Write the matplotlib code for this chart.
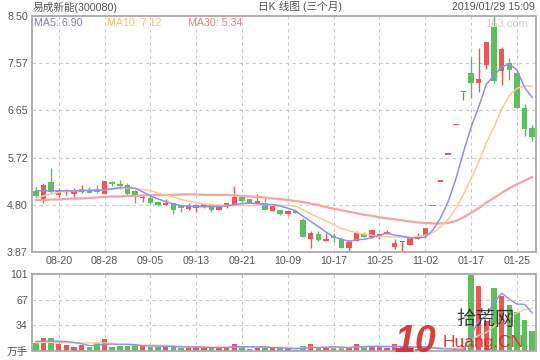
import matplotlib
matplotlib.use('Agg')
import matplotlib.pyplot as plt

plt.rcParams['font.family'] = ['Liberation Sans', 'Noto Sans CJK SC']

# trading days, 08-15 .. 01-29 (stock halted between 11-02 and the January resumption)
dates = ['08-15', '08-16', '08-17', '08-20', '08-21', '08-22', '08-23', '08-24', '08-27', '08-28',
         '08-29', '08-30', '08-31', '09-03', '09-04', '09-05', '09-06', '09-07', '09-10', '09-11',
         '09-12', '09-13', '09-14', '09-17', '09-18', '09-19', '09-20', '09-21', '09-25', '09-26',
         '09-27', '09-28', '10-08', '10-09', '10-10', '10-11', '10-12', '10-15', '10-16', '10-17',
         '10-18', '10-19', '10-22', '10-23', '10-24', '10-25', '10-26', '10-29', '10-30', '10-31',
         '11-01', '11-02', '01-10', '01-11', '01-14', '01-15', '01-16', '01-17', '01-18', '01-21',
         '01-22', '01-23', '01-24', '01-25', '01-28', '01-29']

opens = [5.07, 4.91, 5.24, 4.99, 5.05, 5.01, 5.05, 5.09, 5.11, 5.01,
         5.24, 5.20, 5.18, 5.07, 4.93, 4.93, 4.86, 4.80, 4.83, 4.76,
         4.71, 4.74, 4.75, 4.79, 4.70, 4.77, 4.79, 4.95, 4.91, 4.84,
         4.84, 4.68, 4.70, 4.62, 4.68, 4.50, 4.12, 4.22, 4.09, 4.19,
         4.13, 3.95, 4.09, 4.22, 4.16, 4.17, 4.23, 3.97, 4.06, 4.01,
         4.13, 4.18, 4.77, 5.25, 5.78, 6.36, 7.00, 7.38, 7.19, 7.54,
         8.28, 7.43, 7.58, 7.39, 6.69, 6.30]
closes = [4.97, 5.18, 5.05, 5.07, 5.06, 5.07, 5.11, 5.03, 5.05, 5.26,
          5.20, 5.16, 5.00, 4.95, 4.94, 4.84, 4.79, 4.83, 4.70, 4.74,
          4.77, 4.79, 4.81, 4.70, 4.79, 4.83, 4.95, 4.88, 4.83, 4.88,
          4.70, 4.77, 4.62, 4.67, 4.64, 4.17, 4.25, 4.11, 4.12, 4.15,
          3.95, 4.07, 4.24, 4.17, 4.30, 4.22, 4.27, 4.05, 4.08, 4.15,
          4.18, 4.34, 4.77, 5.25, 5.78, 6.36, 7.00, 7.19, 7.26, 7.99,
          7.23, 7.85, 7.45, 6.70, 6.28, 6.13]
highs = [5.14, 5.22, 5.52, 5.12, 5.10, 5.12, 5.18, 5.14, 5.18, 5.27,
         5.26, 5.28, 5.22, 5.09, 5.01, 4.99, 4.87, 4.91, 4.83, 4.76,
         4.83, 4.79, 4.84, 4.79, 4.79, 4.83, 5.16, 4.96, 4.91, 5.01,
         4.92, 4.77, 4.70, 4.67, 4.69, 4.54, 4.29, 4.28, 4.25, 4.24,
         4.16, 4.11, 4.28, 4.26, 4.32, 4.25, 4.30, 4.12, 4.08, 4.15,
         4.24, 4.34, 4.77, 5.25, 5.78, 6.36, 7.00, 7.70, 7.88, 7.99,
         8.50, 7.89, 7.68, 7.40, 6.77, 6.36]
lows = [4.94, 4.84, 5.00, 4.94, 4.98, 4.95, 5.03, 5.02, 5.03, 5.00,
        5.17, 5.11, 4.99, 4.84, 4.86, 4.81, 4.78, 4.79, 4.62, 4.66,
        4.70, 4.65, 4.74, 4.65, 4.70, 4.74, 4.79, 4.86, 4.83, 4.82,
        4.70, 4.68, 4.59, 4.60, 4.63, 4.17, 3.95, 4.09, 4.09, 4.07,
        3.95, 3.87, 4.09, 4.16, 4.14, 4.12, 4.22, 3.93, 3.88, 4.00,
        4.12, 4.18, 4.77, 5.25, 5.78, 6.36, 6.86, 6.90, 7.01, 7.47,
        7.18, 7.15, 7.25, 6.69, 6.15, 6.05]

ma5 = [5.07, 5.07, 5.07, 5.07, 5.07, 5.07, 5.07, 5.08, 5.08, 5.09,
       5.11, 5.13, 5.14, 5.12, 5.05, 4.97, 4.91, 4.86, 4.81, 4.78,
       4.77, 4.76, 4.76, 4.76, 4.76, 4.77, 4.80, 4.82, 4.83, 4.82,
       4.80, 4.80, 4.77, 4.73, 4.68, 4.57, 4.47, 4.37, 4.26, 4.17,
       4.12, 4.08, 4.11, 4.12, 4.15, 4.20, 4.24, 4.20, 4.18, 4.15,
       4.15, 4.16, 4.30, 4.54, 4.86, 5.30, 5.83, 6.32, 6.72, 7.16,
       7.33, 7.50, 7.56, 7.44, 7.10, 6.90]
ma10 = [4.93, 4.97, 5.01, 5.04, 5.06, 5.07, 5.08, 5.08, 5.08, 5.09,
        5.10, 5.12, 5.13, 5.12, 5.10, 5.07, 5.03, 4.99, 4.95, 4.90,
        4.87, 4.84, 4.81, 4.80, 4.79, 4.78, 4.78, 4.78, 4.78, 4.79,
        4.80, 4.80, 4.79, 4.78, 4.77, 4.70, 4.62, 4.55, 4.48, 4.41,
        4.33, 4.29, 4.25, 4.22, 4.20, 4.17, 4.17, 4.16, 4.16, 4.15,
        4.17, 4.20, 4.25, 4.36, 4.51, 4.72, 5.00, 5.31, 5.63, 6.01,
        6.32, 6.67, 6.94, 7.08, 7.13, 7.12]
ma30 = [4.89, 4.89, 4.90, 4.90, 4.91, 4.92, 4.92, 4.93, 4.94, 4.95,
        4.96, 4.96, 4.97, 4.97, 4.98, 4.98, 4.99, 4.99, 4.99, 5.00,
        5.00, 5.00, 4.99, 4.99, 4.99, 4.99, 4.98, 4.97, 4.96, 4.95,
        4.94, 4.92, 4.91, 4.89, 4.87, 4.85, 4.82, 4.79, 4.75, 4.72,
        4.69, 4.66, 4.63, 4.60, 4.58, 4.55, 4.53, 4.51, 4.49, 4.47,
        4.45, 4.44, 4.43, 4.43, 4.44, 4.48, 4.55, 4.64, 4.73, 4.84,
        4.93, 5.03, 5.12, 5.20, 5.27, 5.34]

# volume in 万手
volume = [10.9, 17.0, 17.0, 9.2, 7.9, 5.2, 7.9, 5.2, 10.5, 15.7,
          5.2, 6.6, 6.6, 7.4, 7.9, 5.2, 5.2, 5.2, 6.6, 4.4,
          4.4, 5.2, 4.4, 3.5, 5.2, 5.2, 9.2, 5.2, 2.6, 5.2,
          5.2, 3.5, 3.5, 2.2, 1.3, 6.6, 9.2, 3.5, 4.4, 4.4,
          4.4, 4.8, 9.2, 6.6, 5.7, 4.8, 3.5, 9.2, 4.8, 4.8,
          2.2, 7.0, 0.5, 0.6, 0.8, 1.5, 6.0, 99.7, 85.3, 40.0,
          82.6, 72.1, 60.0, 51.0, 40.7, 26.2]
vol_ma5 = [12.5, 13.0, 13.2, 12.8, 12.4, 11.3, 9.4, 7.1, 7.3, 8.9,
           8.9, 8.6, 8.9, 8.3, 6.7, 6.6, 6.4, 6.0, 6.0, 5.3,
           5.2, 5.2, 5.0, 4.4, 4.5, 4.7, 5.5, 5.7, 5.5, 5.5,
           5.5, 4.3, 4.2, 3.5, 2.8, 3.4, 4.6, 4.5, 5.0, 5.6,
           5.2, 4.3, 5.4, 5.9, 6.1, 6.2, 6.0, 5.8, 5.6, 5.4,
           4.9, 5.6, 4.0, 3.0, 2.6, 2.1, 1.9, 21.6, 38.6, 46.4,
           62.9, 76.0, 68.0, 61.5, 61.3, 49.8]
vol_ma10 = [11.0, 11.2, 11.3, 11.2, 11.0, 10.8, 10.6, 10.5, 10.5, 10.7,
            10.1, 9.1, 8.1, 7.9, 7.8, 7.8, 7.5, 7.5, 7.1, 6.0,
            5.9, 5.7, 5.5, 5.1, 4.9, 5.0, 5.4, 5.4, 5.0, 5.0,
            5.1, 4.9, 4.8, 4.7, 4.3, 4.4, 4.8, 4.6, 4.8, 4.4,
            4.4, 4.5, 5.2, 5.6, 6.0, 5.9, 5.4, 6.0, 6.1, 5.8,
            5.6, 5.8, 4.9, 4.3, 3.8, 3.5, 3.7, 12.8, 20.8, 24.4,
            32.4, 38.9, 44.9, 49.9, 53.9, 56.4]

price_ticks = [3.87, 4.80, 5.72, 6.65, 7.57, 8.50]
vol_ticks = [0, 34, 67, 101]
vol_tick_labels = ['万手', '34', '67', '101']

UP = '#ee5656'
DOWN = '#5cbf5c'
GRID = '#c9c9c9'
FRAME = '#aaaaaa'
TXT = '#555555'

n = len(dates)
x = list(range(n))
colors = [UP if c >= o else DOWN for o, c in zip(opens, closes)]
body_bottom = [min(o, c) for o, c in zip(opens, closes)]
body_height = [max(abs(c - o), 0.025) for o, c in zip(opens, closes)]
tick_idx = list(range(3, n, 6))

fig = plt.figure(figsize=(5.4, 3.6), dpi=100)
ax = fig.add_axes([32 / 540, 1 - 252 / 360, 504 / 540, 236 / 360])
axv = fig.add_axes([32 / 540, 1 - 351 / 360, 504 / 540, 77 / 360])

for a in (ax, axv):
    for s in a.spines.values():
        s.set_color(FRAME)
        s.set_linewidth(1.3)
    a.set_xlim(-0.5, n - 0.5)
    a.set_xticks(tick_idx)
    a.grid(True, color=GRID, linestyle=(0, (3, 3)), linewidth=0.8)
    a.set_axisbelow(True)
    a.tick_params(length=0, labelsize=7.7, labelcolor=TXT, pad=3)

# price panel
ax.vlines(x, lows, highs, color=colors, linewidth=1)
ax.bar(x, body_height, bottom=body_bottom, width=0.72, color=colors, linewidth=0)
ax.plot(x, ma30, color='#f7a3a3', linewidth=1.6)
ax.plot(x, ma10, color='#fdca8e', linewidth=1.1)
ax.plot(x, ma5, color='#8e8ef4', linewidth=1.1)
ax.set_ylim(price_ticks[0], price_ticks[-1])
ax.set_yticks(price_ticks)
ax.set_yticklabels(['%.2f' % v for v in price_ticks])
ax.set_xticklabels([dates[i] for i in tick_idx])

# volume panel
axv.bar(x, volume, width=0.72, color=colors, linewidth=0)
axv.plot(x, vol_ma10, color='#fdca8e', linewidth=1.0)
axv.plot(x, vol_ma5, color='#8e8ef4', linewidth=1.0)
axv.set_ylim(0, 101)
axv.set_yticks(vol_ticks)
axv.set_yticklabels(vol_tick_labels)
axv.set_xticklabels([])

# header and legend texts
fig.text(33 / 540, 1 - 7 / 360, '易成新能(300080)', fontsize=7.7, color=TXT, va='center')
fig.text(300 / 540, 1 - 7 / 360, '日K 线图 (三个月)', fontsize=7.7, color=TXT, va='center', ha='center')
fig.text(535 / 540, 1 - 7 / 360, '2019/01/29 15:09', fontsize=7.7, color=TXT, va='center', ha='right')
fig.text(34 / 540, 1 - 23 / 360, 'MA5: 6.90', fontsize=7.7, color='#7878f0', va='center')
fig.text(107 / 540, 1 - 23 / 360, 'MA10: 7.12', fontsize=7.7, color='#fdbb66', va='center')
fig.text(188 / 540, 1 - 23 / 360, 'MA30: 5.34', fontsize=7.7, color='#f07a7a', va='center')
fig.text(528 / 540, 1 - 24 / 360, '163.com', fontsize=8, color='#cccccc', va='center', ha='right')

# watermark
fig.text(394 / 540, 1 - 352 / 360, '10', fontsize=27, color='#d42a2a', fontweight='bold',
         fontstyle='italic', alpha=0.9)
fig.text(456 / 540, 1 - 320 / 360, '拾荒网', fontsize=14, color='#222222', va='center', alpha=0.85)
fig.text(443 / 540, 1 - 342 / 360, 'Huang.CN', fontsize=12.5, color='#d42a2a', va='center', alpha=0.9)

fig.savefig('out.png', dpi=100)
